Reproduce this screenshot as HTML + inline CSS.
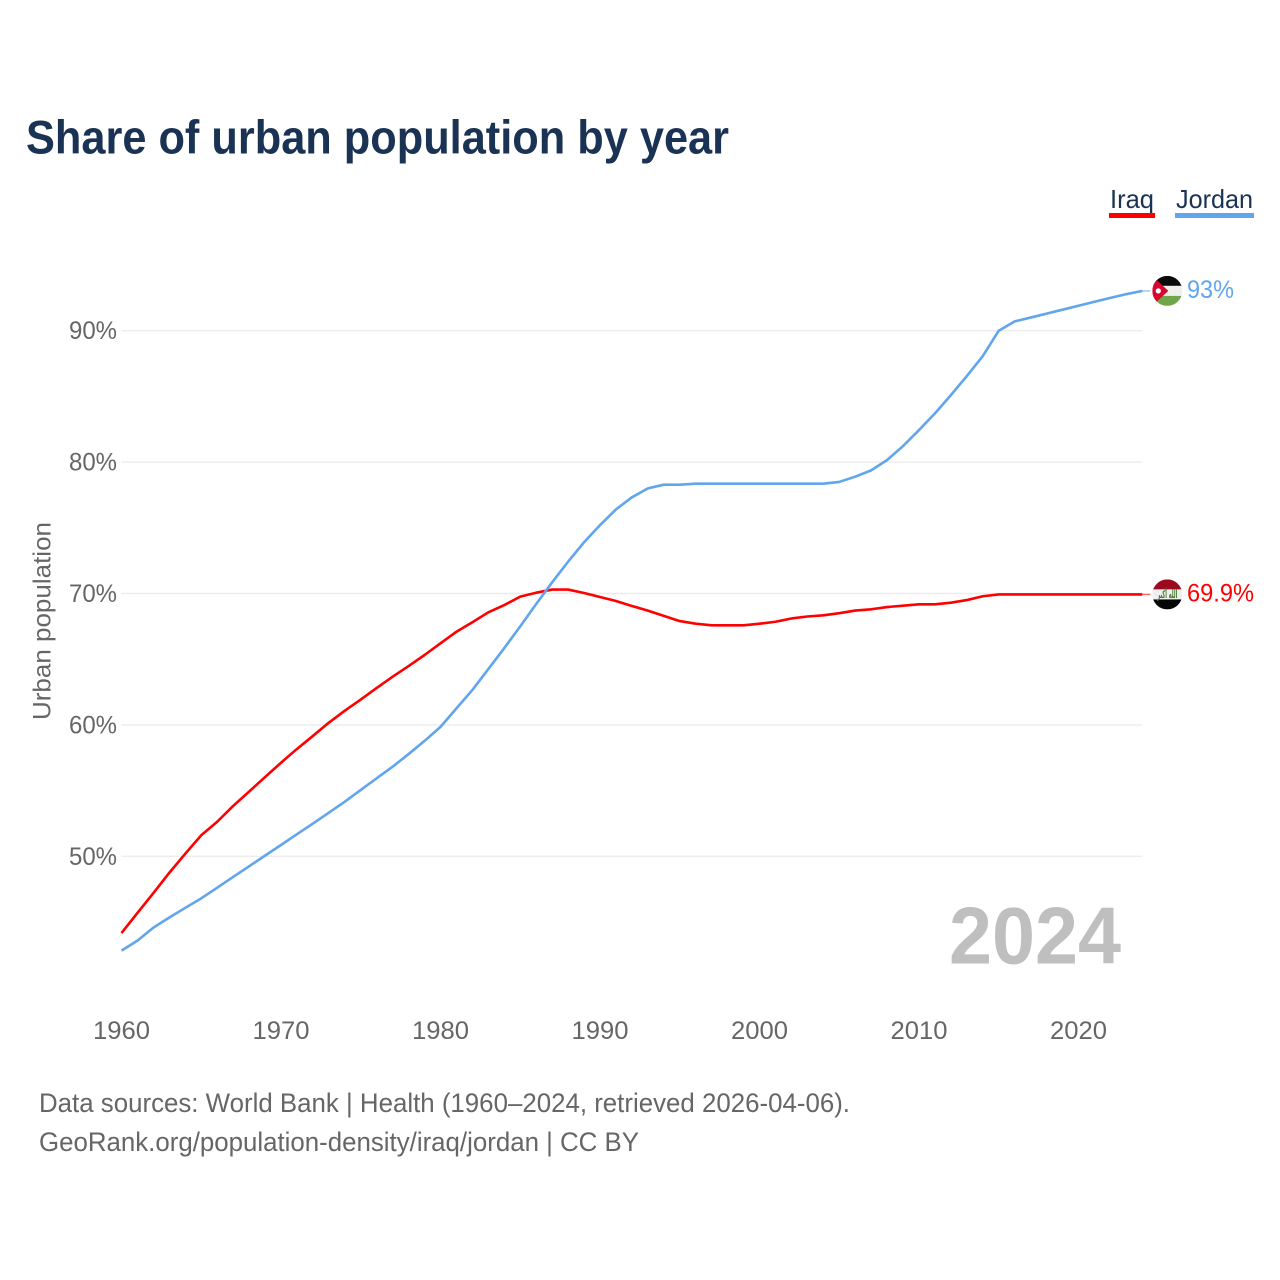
<!DOCTYPE html>
<html lang="en">
<head>
<meta charset="utf-8">
<title>Share of urban population by year</title>
<style>
html,body{margin:0;padding:0;background:#fff;width:1280px;height:1280px;overflow:hidden}
svg{display:block}
text{font-family:"Liberation Sans",sans-serif}
</style>
</head>
<body>
<svg id="chart" xmlns="http://www.w3.org/2000/svg" width="1280" height="1280" viewBox="0 0 1280 1280">
  <defs>
    <clipPath id="flag-clip"><circle cx="0" cy="0" r="15"/></clipPath>
  </defs>
  <rect width="1280" height="1280" fill="#fff"/>
  <text x="26" y="153.5" font-size="47" font-weight="700" fill="#1a3354" textLength="703" lengthAdjust="spacingAndGlyphs">Share of urban population by year</text>

  <g>
    <text x="1110" y="208" font-size="26" fill="#1a3354" textLength="44" lengthAdjust="spacingAndGlyphs">Iraq</text>
    <rect x="1109" y="213" width="46" height="5" fill="#ff0000"/>
  </g>
  <g>
    <text x="1176" y="208" font-size="26" fill="#1a3354" textLength="77" lengthAdjust="spacingAndGlyphs">Jordan</text>
    <rect x="1175" y="213" width="79" height="5" fill="#60a5ed"/>
  </g>

  <g id="grid"></g>
  <g id="y-ticks"></g>
  <g id="x-ticks"></g>

  <text transform="translate(50.5,621) rotate(-90)" text-anchor="middle" font-size="25" fill="#666" textLength="198" lengthAdjust="spacingAndGlyphs">Urban population</text>
  <text x="949" y="963.5" font-size="81" font-weight="700" fill="#bfbfbf" textLength="172" lengthAdjust="spacingAndGlyphs">2024</text>

  <g id="series"></g>

  <g id="flag-jordan" clip-path="url(#flag-clip)">
    <rect x="-15" y="-15" width="30" height="10" fill="#0a0a0a"/>
    <rect x="-15" y="-5" width="30" height="10" fill="#efefef"/>
    <rect x="-15" y="5" width="30" height="10" fill="#6fa64a"/>
    <polygon points="-15,-15 1,0 -15,15" fill="#d8062c"/>
    <circle cx="-9" cy="0" r="2.6" fill="#fff"/>
  </g>
  <g id="flag-iraq" clip-path="url(#flag-clip)">
    <rect x="-15" y="-15" width="30" height="10" fill="#9c0a20"/>
    <rect x="-15" y="-5" width="30" height="10" fill="#efefef"/>
    <rect x="-15" y="5" width="30" height="10" fill="#050505"/>
    <text x="0" y="3.5" text-anchor="middle" font-size="11" font-weight="700" fill="#3f7a2c" textLength="20" lengthAdjust="spacingAndGlyphs" style="font-family:'DejaVu Sans',sans-serif">الله أكبر</text>
  </g>

  <text id="value-jordan" x="1187" y="297" font-size="25" fill="#60a5ed" textLength="47" lengthAdjust="spacingAndGlyphs"></text>
  <text id="value-iraq" x="1187" y="601" font-size="25" fill="#ff0000" textLength="67" lengthAdjust="spacingAndGlyphs"></text>

  <text x="39" y="1112" font-size="27" fill="#666" textLength="811" lengthAdjust="spacingAndGlyphs">Data sources: World Bank | Health (1960–2024, retrieved 2026-04-06).</text>
  <text x="39" y="1151" font-size="27" fill="#666" textLength="600" lengthAdjust="spacingAndGlyphs">GeoRank.org/population-density/iraq/jordan | CC BY</text>
</svg>
<script>
const startYear = 1960;
const xTickYears = [1960, 1970, 1980, 1990, 2000, 2010, 2020];
const yTickValues = [50, 60, 70, 80, 90];
const iraqValues = [44.16,45.69,47.2,48.75,50.2,51.6,52.63,53.83,54.92,56.03,57.12,58.17,59.16,60.17,61.08,61.93,62.81,63.67,64.48,65.32,66.21,67.09,67.81,68.57,69.12,69.76,70.06,70.3,70.3,70.04,69.73,69.43,69.05,68.7,68.3,67.9,67.7,67.58,67.58,67.58,67.7,67.85,68.1,68.25,68.34,68.5,68.7,68.8,68.97,69.07,69.18,69.18,69.3,69.5,69.79,69.93,69.93,69.93,69.93,69.93,69.93,69.93,69.93,69.93,69.93];
const jordanValues = [42.82,43.58,44.57,45.34,46.08,46.8,47.61,48.43,49.24,50.05,50.86,51.68,52.49,53.32,54.16,55.05,55.94,56.82,57.78,58.78,59.85,61.26,62.66,64.25,65.85,67.5,69.2,70.85,72.42,73.9,75.2,76.4,77.32,78.0,78.28,78.28,78.36,78.36,78.36,78.36,78.36,78.36,78.36,78.36,78.36,78.49,78.89,79.37,80.16,81.22,82.44,83.71,85.1,86.55,88.07,90.0,90.71,91.0,91.3,91.6,91.9,92.2,92.5,92.78,93.03];

const NS = 'http://www.w3.org/2000/svg';
function xScale(year) { return 121.5 + (year - 1960) * 15.95; }
function yScale(value) { return 593.5 - (value - 70) * 13.14; }
function make(tag, attrs, parent) {
  const el = document.createElementNS(NS, tag);
  for (const k in attrs) el.setAttribute(k, attrs[k]);
  parent.appendChild(el);
  return el;
}

const gridGroup = document.getElementById('grid');
const yGroup = document.getElementById('y-ticks');
yTickValues.forEach(function (v) {
  const line = make('line', {x1: xScale(1960), x2: xScale(2024), y1: yScale(v), y2: yScale(v), stroke: '#ececec', 'stroke-width': 1.4}, gridGroup);
  
  
  const label = make('text', {x: 117, y: yScale(v) + 8.5, 'text-anchor': 'end', 'font-size': 25, fill: '#666', textLength: 48, lengthAdjust: 'spacingAndGlyphs'}, yGroup);
  label.textContent = v + '%';
  
  
});

const xGroup = document.getElementById('x-ticks');
xTickYears.forEach(function (yr) {
  const label = make('text', {x: xScale(yr), y: 1039, 'text-anchor': 'middle', 'font-size': 25, fill: '#666', textLength: 57, lengthAdjust: 'spacingAndGlyphs'}, xGroup);
  label.textContent = String(yr);
  
  
});

function linePoints(values) {
  return values.map(function (v, i) { return xScale(startYear + i).toFixed(2) + ',' + yScale(v).toFixed(2); }).join(' ');
}
const seriesGroup = document.getElementById('series');
function drawSeries(name, values, color) {
  const last = values[values.length - 1];
  const endX = xScale(startYear + values.length - 1);
  const stub = make('line', {x1: endX, x2: endX + 8, y1: yScale(last), y2: yScale(last), stroke: color, 'stroke-width': 1.5, opacity: 0.6}, seriesGroup);
  
  
  const line = make('polyline', {points: linePoints(values), fill: 'none', stroke: color, 'stroke-width': 2.6, 'stroke-linejoin': 'round'}, seriesGroup);
  
  
  const flag = document.getElementById('flag-' + name);
  flag.setAttribute('transform', 'translate(' + (endX + 25) + ',' + yScale(last) + ')');
  const valueLabel = document.getElementById('value-' + name);
  valueLabel.setAttribute('y', yScale(last) + 7);
  valueLabel.textContent = last.toFixed(1).replace(/\.0$/, '') + '%';
}
drawSeries('iraq', iraqValues, '#ff0000');
drawSeries('jordan', jordanValues, '#60a5ed');
</script>
</body>
</html>
